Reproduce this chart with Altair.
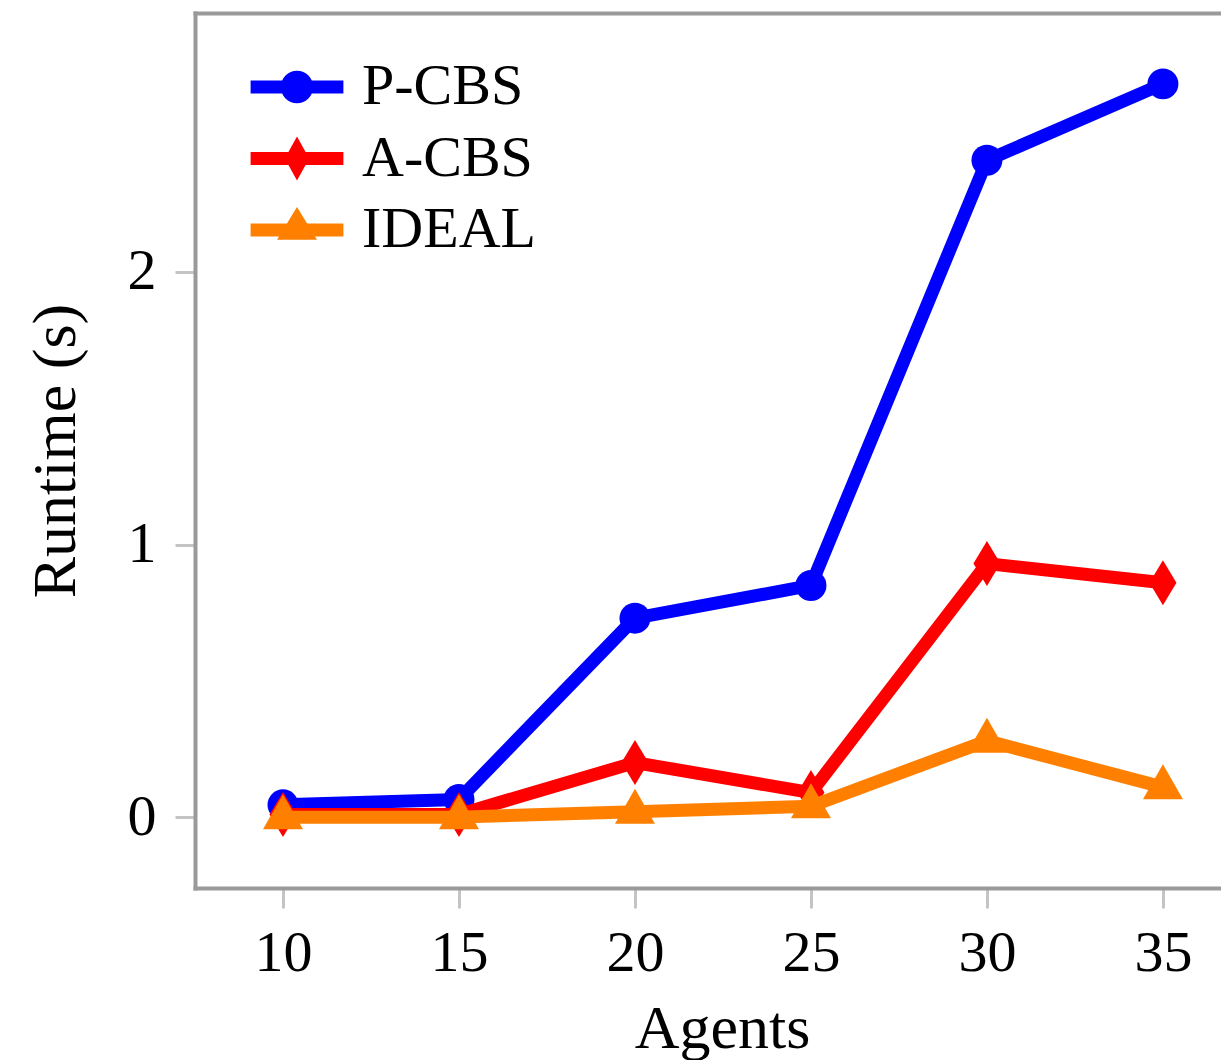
import altair as alt
import pandas as pd

# ---- data ----
agents = [10, 15, 20, 25, 30, 35]
pcbs = [0.045, 0.065, 0.73, 0.85, 2.41, 2.69]
acbs = [0.01, 0.01, 0.20, 0.09, 0.93, 0.86]
ideal = [0.0, 0.0, 0.02, 0.04, 0.28, 0.11]
series_names = ["P-CBS", "A-CBS", "IDEAL"]
series_colors = ["#0000ff", "#ff0000", "#ff8000"]
x_ticks = [10, 15, 20, 25, 30, 35]
y_ticks = [0, 1, 2]

FONT = "Liberation Serif"

frames = []
for name, vals in zip(series_names, [pcbs, acbs, ideal]):
    frames.append(pd.DataFrame({"agents": agents, "runtime": vals, "series": name}))
df = pd.concat(frames, ignore_index=True)

xscale = alt.Scale(domain=[7.5, 36.65], nice=False, zero=False)
yscale = alt.Scale(domain=[-0.26, 2.95], nice=False, zero=False)

FRAME = "#9a9a9a"
TICK = "#c4c4c4"

x_axis = alt.Axis(
    values=x_ticks, grid=False, labelFont=FONT, labelFontSize=58, labelColor="black",
    labelPadding=16, tickSize=20, tickColor=TICK, tickWidth=3,
    domainColor=FRAME, domainWidth=4, domainCap="square",
    title="Agents", titleFont=FONT, titleFontSize=62, titleFontWeight="normal",
    titleColor="black", titlePadding=16, titleX=527,
)
y_axis = alt.Axis(
    values=y_ticks, grid=False, labelFont=FONT, labelFontSize=58, labelColor="black",
    labelPadding=19, tickSize=20, tickColor=TICK, tickWidth=3,
    domainColor=FRAME, domainWidth=4, domainCap="square",
    title="Runtime (s)", titleFont=FONT, titleFontSize=62, titleFontWeight="normal",
    titleColor="black", titlePadding=40,
)
top_axis = alt.Axis(
    orient="top", labels=False, ticks=False, grid=False, title="",
    domainColor=FRAME, domainWidth=4, domainCap="square",
)

# marker shapes on the data points
data_shapes = [
    "circle",
    "M0,-1 L0.6,0 L0,1 L-0.6,0 Z",
    "M0,-1.15 L1,0.6 L-1,0.6 Z",
]
data_sizes = [960, 2025, 1600]

# legend symbols: line segment with marker in the middle
legend_paths = [
    "M-1.6,-0.22 L1.6,-0.22 L1.6,0.22 L-1.6,0.22 Z M-0.56,0 A0.56,0.56 0 1,1 0.56,0 A0.56,0.56 0 1,1 -0.56,0 Z",
    "M-1.6,-0.22 L1.6,-0.22 L1.6,0.22 L-1.6,0.22 Z M0,-0.76 L0.42,0 L0,0.76 L-0.42,0 Z",
    "M-1.6,-0.22 L1.6,-0.22 L1.6,0.22 L-1.6,0.22 Z M0,-0.79 L0.69,0.34 L-0.69,0.34 Z",
]

base = alt.Chart(df)
layers = []
for i, (name, col) in enumerate(zip(series_names, series_colors)):
    sub = base.transform_filter(alt.datum.series == name)
    line = sub.mark_line(color=col, strokeWidth=13, strokeJoin="round").encode(
        x=alt.X("agents:Q", scale=xscale, axis=x_axis if i == 0 else None),
        y=alt.Y("runtime:Q", scale=yscale, axis=y_axis),
    )
    pts = sub.mark_point(filled=True, shape=data_shapes[i], size=data_sizes[i],
                         color=col, opacity=1, strokeWidth=0).encode(
        x=alt.X("agents:Q", scale=xscale, axis=None),
        y=alt.Y("runtime:Q", scale=yscale, axis=y_axis),
    )
    layers += [line, pts]

legend = alt.Legend(
    title=None, orient="none", legendX=73, legendY=45,
    symbolSize=3364, symbolOpacity=1, symbolStrokeWidth=0,
    labelFont=FONT, labelFontSize=58, labelColor="black", labelOffset=36,
    labelLimit=600, rowPadding=13.5, padding=0,
)
leg_layer = base.mark_point(filled=True, opacity=0).encode(
    x=alt.X("agents:Q", scale=xscale, axis=top_axis),
    y=alt.Y("runtime:Q", scale=yscale, axis=y_axis),
    color=alt.Color("series:N", scale=alt.Scale(domain=series_names, range=series_colors),
                    legend=legend, sort=series_names),
    shape=alt.Shape("series:N", scale=alt.Scale(domain=series_names, range=legend_paths),
                    legend=legend, sort=series_names),
)
layers.append(leg_layer)

chart = alt.layer(*layers).resolve_axis(x="independent").properties(
    width=1026, height=875,
    autosize=alt.AutoSizeParams(type="none"),
    padding={"left": 187, "top": 5, "right": 0, "bottom": 172},
    background="white",
).configure_view(stroke=None)

chart.save("out.html", embed_options={"renderer": "svg", "actions": False})
